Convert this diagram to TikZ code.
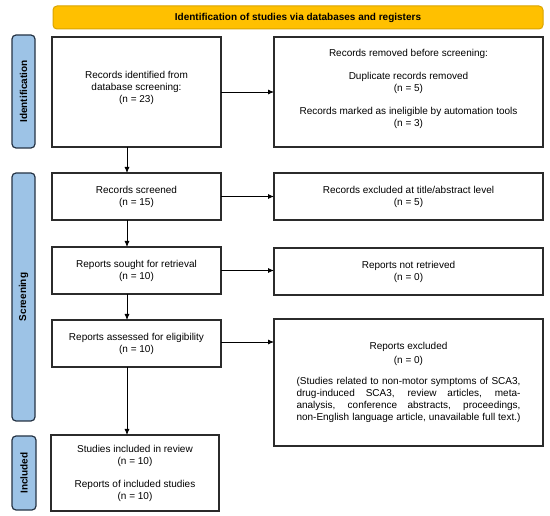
\documentclass[tikz,border=0pt]{standalone}
\usepackage{fontspec}
\setmainfont{Liberation Sans}
\usetikzlibrary{arrows.meta}
\definecolor{barfill}{HTML}{FFC000}
\definecolor{bardraw}{HTML}{D9A400}
\definecolor{sidefill}{HTML}{9DC3E6}
\definecolor{sidedraw}{HTML}{263445}
\definecolor{boxdraw}{HTML}{2B2B2B}
\begin{document}
\begin{tikzpicture}[x=1pt,y=-1pt,
  every node/.style={font=\fontsize{10}{12}\selectfont, inner sep=0pt, outer sep=0pt},
  box/.style={draw=boxdraw, line width=1.2pt, fill=white, align=center},
  bar/.style={draw=bardraw, line width=1pt, fill=barfill, rounded corners=4pt, font=\fontsize{10}{12}\selectfont\bfseries},
  side/.style={draw=sidedraw, line width=1.2pt, fill=sidefill, rounded corners=4pt, rotate=90, minimum height=23pt, font=\fontsize{10}{12}\selectfont\bfseries},
  arr/.style={draw=black, line width=0.8pt, -{Latex[length=6pt,width=5pt]}}
]
\useasboundingbox (0,0) rectangle (550,516);
\fill[white] (0,0) rectangle (550,516);

\node[bar, minimum width=490pt, minimum height=23pt] (top) at (298,17.5) {Identification of studies via databases and registers};

\node[side, minimum width=113pt] (lid) at (23.5,91.5) {Identification};
\node[side, minimum width=248pt] (lscr) at (23.5,297) {Screening};
\node[side, minimum width=74pt, minimum height=24pt] (linc) at (24,473) {Included};

\node[box, minimum width=169pt, minimum height=110pt] (id1) at (136.5,92) {Records identified from\\database screening:\\(n = 23)\\[-2pt]};
\node[box, minimum width=269pt, minimum height=110pt] (rem) at (408.5,92) {Records removed before screening:\\[11pt]Duplicate records removed\\(n = 5)\\[11pt]Records marked as ineligible by automation tools\\(n = 3)\\[-4pt]};

\node[box, minimum width=169pt, minimum height=47pt] (scr) at (136.5,196.5) {Records screened\\(n = 15)};
\node[box, minimum width=269pt, minimum height=47pt] (exc1) at (408.5,196.5) {Records excluded at title/abstract level\\(n = 5)};

\node[box, minimum width=169pt, minimum height=47pt] (sought) at (136.5,270.5) {Reports sought for retrieval\\(n = 10)};
\node[box, minimum width=269pt, minimum height=47pt] (notret) at (408.5,271.5) {Reports not retrieved\\(n = 0)};

\node[box, minimum width=169pt, minimum height=47pt] (assess) at (136.5,343.5) {Reports assessed for eligibility\\(n = 10)};
\node[box, minimum width=269pt, minimum height=127pt] (excl) at (408.5,382.5) {Reports excluded\\[2pt](n = 0)\\[9pt]%
\makebox[224pt][s]{(Studies related to non-motor symptoms of SCA3,}\\
\makebox[224pt][s]{drug-induced SCA3, review articles, meta-}\\
\makebox[224pt][s]{analysis, conference abstracts, proceedings,}\\
\makebox[224pt][s]{non-English language article, unavailable full text.)}};

\node[box, minimum width=168pt, minimum height=76pt] (incl) at (135,473) {Studies included in review\\(n = 10)\\[11pt]Reports of included studies\\(n = 10)};

\coordinate (ax) at (127,0);
\coordinate (ae) at ([yshift=1.5pt]assess.east);
\draw[arr] (id1.south -| ax) -- (scr.north -| ax);
\draw[arr] (scr.south -| ax) -- (sought.north -| ax);
\draw[arr] (sought.south -| ax) -- (assess.north -| ax);
\draw[arr] (assess.south -| ax) -- (incl.north -| ax);

\draw[arr] (id1.east) -- (rem.west |- id1.east);
\draw[arr] (scr.east) -- (exc1.west |- scr.east);
\draw[arr] (sought.east) -- (notret.west |- sought.east);
\draw[arr] (ae) -- (excl.west |- ae);
\end{tikzpicture}
\end{document}
